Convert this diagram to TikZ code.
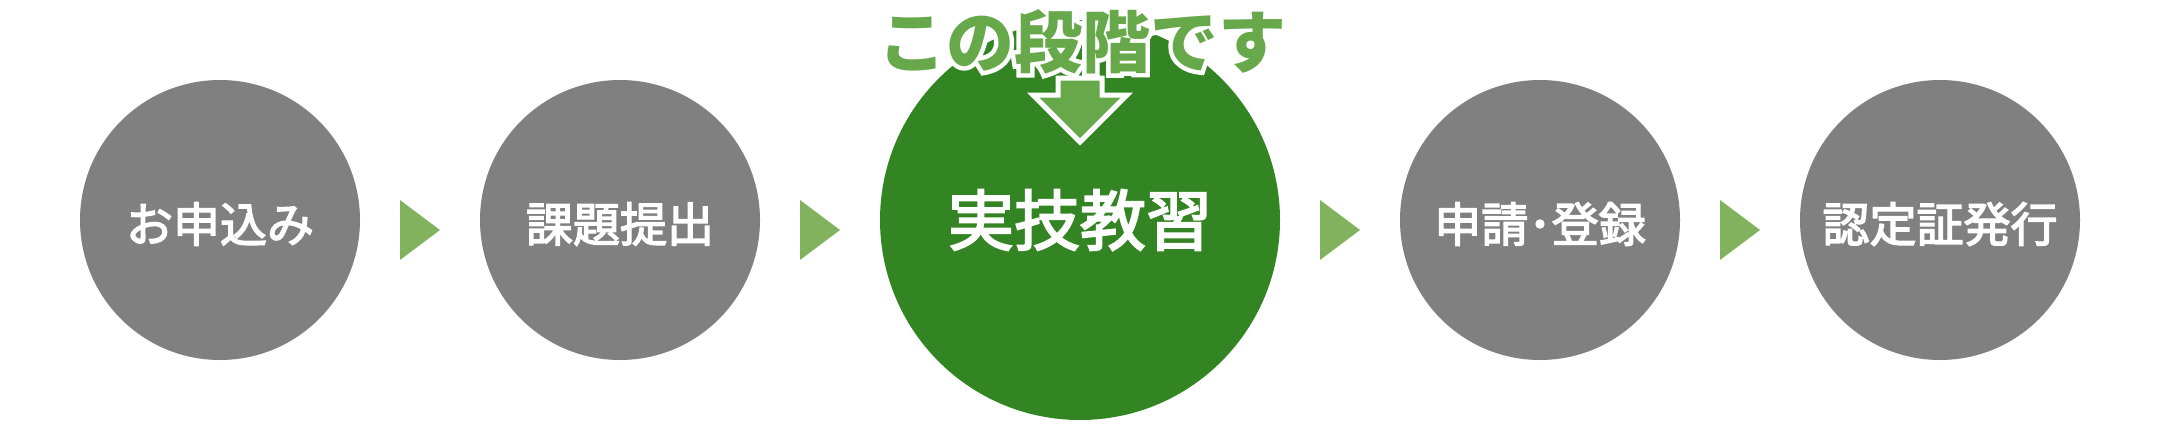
\documentclass[tikz,border=0pt]{standalone}
\usepackage{fontspec}
\newfontfamily\jp{Noto Sans CJK JP}[FakeBold=3]
\newfontfamily\jpcap{Noto Sans CJK JP}
\newfontfamily\jphalo{Noto Sans CJK JP}[BoldFeatures={FakeBold=13}]
\definecolor{stepgray}{HTML}{808080}
\definecolor{nowgreen}{HTML}{338422}
\definecolor{trigreen}{HTML}{83B25F}
\definecolor{markgreen}{HTML}{66A84A}
\tikzset{
  stepcircle/.style={circle, fill=stepgray, minimum size=280pt, inner sep=0pt},
  nowcircle/.style={circle, fill=nowgreen, minimum size=400pt, inner sep=0pt},
  steplabel/.style={text=white, inner sep=0pt, font=\jp\fontsize{47}{47}\selectfont},
  nowlabel/.style={text=white, inner sep=0pt, font=\jp\fontsize{66}{66}\selectfont},
  tri/.style={fill=trigreen},
  marktext/.style={inner sep=0pt, anchor=base, font=\jpcap\bfseries\fontsize{68}{68}\selectfont},
  markhalo/.style={inner sep=0pt, anchor=base, text=white, font=\jphalo\bfseries\fontsize{68}{68}\selectfont},
  markarrow/.style={fill=markgreen, draw=white, line width=5pt, miter limit=10, line join=miter}
}
\begin{document}
\begin{tikzpicture}[x=1pt,y=-1pt]
\useasboundingbox (0,0) rectangle (2160,440);
% circles
\node[stepcircle] (c1) at (220,220) {};
\node[stepcircle] (c2) at (620,220) {};
\node[nowcircle]  (c3) at (1080,220) {};
\node[stepcircle] (c4) at (1540,220) {};
\node[stepcircle] (c5) at (1940,220) {};
% labels
\node[steplabel] (l1) at ([yshift=-4pt]c1.center) {お申込み};
\node[steplabel] (l2) at ([yshift=-4pt]c2.center) {課題提出};
\node[nowlabel]  (l3) at (c3.center) {実技教習};
\node[steplabel] (l4) at ([yshift=-4pt]c4.center) {申請･登録};
\node[steplabel] (l5) at ([yshift=-4pt]c5.center) {認定証発行};
% triangles between steps
\fill[tri] (400,200) -- (440,230) -- (400,260) -- cycle;
\fill[tri] (800,200) -- (840,230) -- (800,260) -- cycle;
\fill[tri] (1320,200) -- (1360,230) -- (1320,260) -- cycle;
\fill[tri] (1720,200) -- (1760,230) -- (1720,260) -- cycle;
% down arrow
\draw[markarrow] (1058,78) -- (1102,78) -- (1102,95) -- (1127,95) -- (1080,142) -- (1033,95) -- (1058,95) -- cycle;
% top caption with white halo
\coordinate (tb) at (1082,67);
\node[markhalo] (halo) at (tb) {この段階です};
\node[marktext, text=markgreen] (cap) at (tb) {この段階です};
\end{tikzpicture}
\end{document}
